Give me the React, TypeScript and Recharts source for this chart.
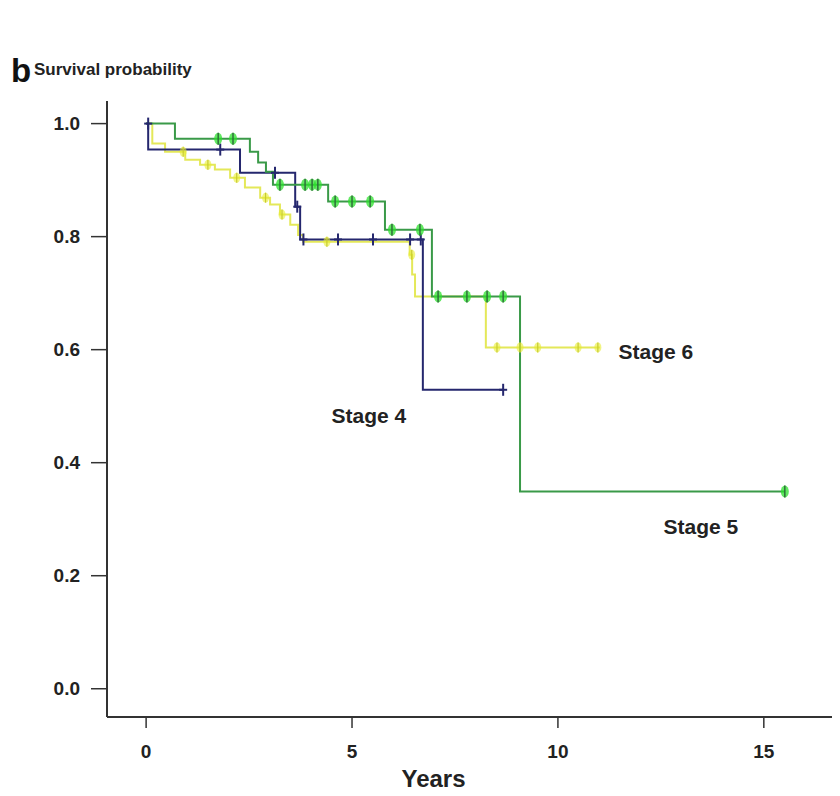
import React from 'react';
import { ComposedChart, Line, Scatter, XAxis, YAxis, ReferenceDot } from 'recharts';

const xTicks = [0, 5, 10, 15];
const yTicks = [0, 0.2, 0.4, 0.6, 0.8, 1.0];

// Stage 4 (navy)
const stage4Steps = [
  { t: 0, s: 1.0 }, { t: 0.05, s: 0.954 }, { t: 2.28, s: 0.913 }, { t: 3.62, s: 0.853 },
  { t: 3.74, s: 0.795 }, { t: 6.72, s: 0.529 }, { t: 8.67, s: 0.529 },
];
const stage4Censor = [
  { t: 0.05, s: 1.0 }, { t: 1.8, s: 0.954 }, { t: 3.13, s: 0.913 }, { t: 3.67, s: 0.853 },
  { t: 3.82, s: 0.795 }, { t: 4.66, s: 0.795 }, { t: 5.51, s: 0.795 }, { t: 6.41, s: 0.795 },
  { t: 6.67, s: 0.795 }, { t: 8.67, s: 0.529 },
];

// Stage 5 (green)
const stage5Steps = [
  { t: 0, s: 1.0 }, { t: 0.7, s: 0.973 }, { t: 2.52, s: 0.95 }, { t: 2.72, s: 0.931 },
  { t: 2.91, s: 0.915 }, { t: 3.08, s: 0.892 }, { t: 4.42, s: 0.862 }, { t: 5.8, s: 0.812 },
  { t: 6.94, s: 0.694 }, { t: 9.08, s: 0.349 }, { t: 15.51, s: 0.349 },
];
const stage5Censor = [
  { t: 1.75, s: 0.973 }, { t: 2.11, s: 0.973 }, { t: 3.25, s: 0.892 }, { t: 3.86, s: 0.892 },
  { t: 4.03, s: 0.892 }, { t: 4.17, s: 0.892 }, { t: 4.59, s: 0.862 }, { t: 5.0, s: 0.862 },
  { t: 5.44, s: 0.862 }, { t: 5.97, s: 0.812 }, { t: 6.65, s: 0.812 }, { t: 7.09, s: 0.694 },
  { t: 7.79, s: 0.694 }, { t: 8.28, s: 0.694 }, { t: 8.67, s: 0.694 }, { t: 15.51, s: 0.349 },
];

// Stage 6 (yellow)
const stage6Steps = [
  { t: 0, s: 1.0 }, { t: 0.15, s: 0.965 }, { t: 0.46, s: 0.95 }, { t: 0.95, s: 0.936 },
  { t: 1.31, s: 0.927 }, { t: 1.67, s: 0.919 }, { t: 2.04, s: 0.904 }, { t: 2.4, s: 0.887 },
  { t: 2.77, s: 0.869 }, { t: 3.01, s: 0.857 }, { t: 3.25, s: 0.839 }, { t: 3.5, s: 0.821 },
  { t: 3.69, s: 0.803 }, { t: 3.81, s: 0.791 }, { t: 6.4, s: 0.768 }, { t: 6.46, s: 0.733 },
  { t: 6.53, s: 0.694 }, { t: 8.25, s: 0.604 }, { t: 11.02, s: 0.604 },
];
const stage6Censor = [
  { t: 0.9, s: 0.95 }, { t: 1.5, s: 0.927 }, { t: 2.2, s: 0.904 }, { t: 2.9, s: 0.869 },
  { t: 3.3, s: 0.839 }, { t: 4.39, s: 0.791 }, { t: 6.45, s: 0.768 }, { t: 8.52, s: 0.604 },
  { t: 9.08, s: 0.604 }, { t: 9.51, s: 0.604 }, { t: 10.49, s: 0.604 }, { t: 10.97, s: 0.604 },
];

const stageLabels = [
  { t: 12.38, s: 0.596, name: 'Stage 6' },
  { t: 5.41, s: 0.483, name: 'Stage 4' },
  { t: 13.47, s: 0.287, name: 'Stage 5' },
];

const NAVY = '#25276e';
const GREEN = '#3a9a48';
const YELLOW = '#dfe43c';
const FONT = '"Liberation Sans", Arial, sans-serif';

const NavyCensor = (p: any) => {
  const { cx, cy } = p;
  return (
    <g>
      <line x1={cx} x2={cx} y1={cy - 6} y2={cy + 6} stroke={NAVY} strokeWidth={2} />
      <line x1={cx - 4} x2={cx + 4} y1={cy} y2={cy} stroke={NAVY} strokeWidth={2} />
    </g>
  );
};

const GreenCensor = (p: any) => {
  const { cx, cy } = p;
  return (
    <g>
      <ellipse cx={cx} cy={cy} rx={4} ry={6} fill="#2ee02e" fillOpacity={0.75} />
      <line x1={cx} x2={cx} y1={cy - 6} y2={cy + 6} stroke="#2f6f3a" strokeWidth={1.5} />
    </g>
  );
};

const YellowCensor = (p: any) => {
  const { cx, cy } = p;
  return (
    <g>
      <ellipse cx={cx} cy={cy} rx={3.5} ry={5} fill="#e8ec30" fillOpacity={0.6} />
      <line x1={cx} x2={cx} y1={cy - 5} y2={cy + 5} stroke="#c8cc30" strokeWidth={1.2} />
    </g>
  );
};

const tickStyle = { fontFamily: FONT, fontWeight: 'bold', fontSize: 19, fill: '#222' };

export default function App() {
  return (
    <div style={{ position: 'relative', width: 832, height: 788 }}>
      <ComposedChart
        width={832}
        height={788}
        margin={{ top: 93, right: 0, bottom: 19, left: 39 }}
      >
        <XAxis
          dataKey="t"
          type="number"
          domain={[-0.95, 16.85]}
          allowDataOverflow
          ticks={xTicks}
          height={60}
          tickSize={11}
          tickMargin={17}
          axisLine={{ stroke: '#333', strokeWidth: 2 }}
          tickLine={{ stroke: '#333', strokeWidth: 1.5 }}
          tick={tickStyle}
          label={{
            value: 'Years',
            position: 'insideBottom',
            offset: -10,
            dx: -40,
            style: { fontFamily: FONT, fontWeight: 'bold', fontSize: 24, fill: '#222' },
          }}
        />
        <YAxis
          type="number"
          domain={[-0.05, 1.04]}
          allowDataOverflow
          ticks={yTicks}
          width={60}
          tickSize={16}
          tickMargin={11}
          tickFormatter={(v: number) => v.toFixed(1)}
          axisLine={{ stroke: '#333', strokeWidth: 2 }}
          tickLine={{ stroke: '#333', strokeWidth: 1.5 }}
          tick={tickStyle}
        />
        <Line
          data={stage6Steps}
          dataKey="s"
          type="stepAfter"
          stroke={YELLOW}
          strokeWidth={2}
          strokeOpacity={0.85}
          dot={false}
          isAnimationActive={false}
        />
        <Scatter data={stage6Censor} dataKey="s" shape={YellowCensor} isAnimationActive={false} />
        <Line
          data={stage4Steps}
          dataKey="s"
          type="stepAfter"
          stroke={NAVY}
          strokeWidth={2}
          dot={false}
          isAnimationActive={false}
        />
        <Scatter data={stage4Censor} dataKey="s" shape={NavyCensor} isAnimationActive={false} />
        <Line
          data={stage5Steps}
          dataKey="s"
          type="stepAfter"
          stroke={GREEN}
          strokeWidth={2}
          dot={false}
          isAnimationActive={false}
        />
        <Scatter data={stage5Censor} dataKey="s" shape={GreenCensor} isAnimationActive={false} />
        {stageLabels.map((l) => (
          <ReferenceDot
            key={l.name}
            x={l.t}
            y={l.s}
            r={1}
            fill="none"
            stroke="none"
            label={{
              value: l.name,
              position: 'center',
              fill: '#222',
              fontSize: 21,
              fontWeight: 'bold',
              fontFamily: FONT,
            }}
          />
        ))}
      </ComposedChart>
      <svg
        width={832}
        height={100}
        style={{ position: 'absolute', left: 0, top: 0, pointerEvents: 'none' }}
      >
        <text x={3} y={74} fontFamily={FONT} fontWeight="bold" fontSize={33} fill="#111">
          b
        </text>
        <text x={26} y={67} fontFamily={FONT} fontWeight="bold" fontSize={17} fill="#222">
          Survival probability
        </text>
      </svg>
    </div>
  );
}
